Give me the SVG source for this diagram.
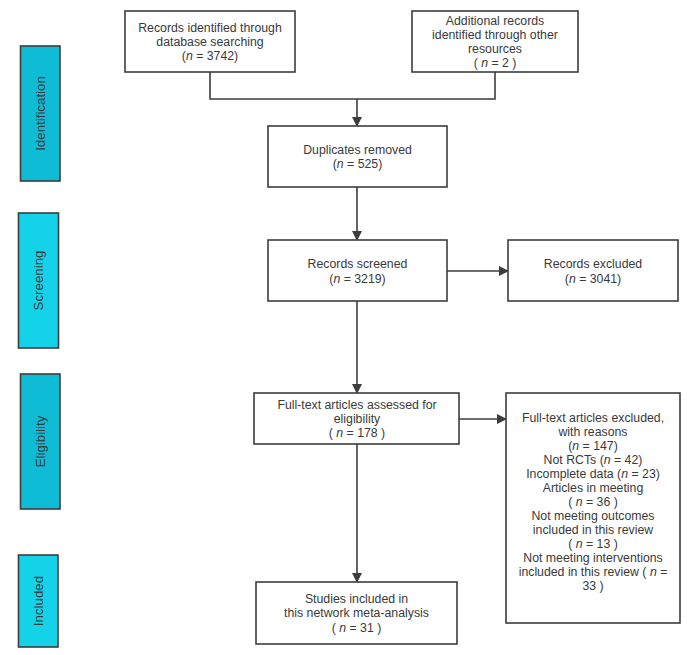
<svg xmlns="http://www.w3.org/2000/svg" width="691" height="655" viewBox="0 0 691 655">
<style>
.box{fill:#fff;stroke:#3d3d3d;stroke-width:1.6}
.bar{stroke:#3d3d3d;stroke-width:1.6}
.dark{fill:#0ebcd6}
.light{fill:#14d3e8}
text{font-family:"Liberation Sans",Arial,sans-serif;font-size:12.3px;fill:#3a3a3a;text-anchor:middle}
.side{font-size:13.3px}
.line{fill:none;stroke:#3d3d3d;stroke-width:1.6}
</style>
<defs>
<marker id="ah" markerWidth="10" markerHeight="10" refX="9" refY="5" orient="auto" markerUnits="userSpaceOnUse">
<path d="M0,0 L10,5 L0,10 Z" fill="#3d3d3d"/>
</marker>
</defs>
<rect width="691" height="655" fill="#fff"/>

<g id="identification">
<rect class="bar dark" x="20.5" y="46" width="39.5" height="135"/>
<text class="side" transform="translate(44.5,113.5) rotate(-90)">Identification</text>
</g>
<g id="screening">
<rect class="bar light" x="18.5" y="213" width="40" height="135"/>
<text class="side" transform="translate(43,280.5) rotate(-90)">Screening</text>
</g>
<g id="eligibility">
<rect class="bar dark" x="20.5" y="374" width="39.5" height="135"/>
<text class="side" transform="translate(44.5,441.5) rotate(-90)">Eligibility</text>
</g>
<g id="included">
<rect class="bar light" x="18.5" y="555" width="39.5" height="92"/>
<text class="side" transform="translate(42.5,601) rotate(-90)">Included</text>
</g>

<g id="connectors">
<polyline class="line" points="210,72 210,99 495,99 495,72"/>
<line class="line" x1="357" y1="99" x2="357" y2="126" marker-end="url(#ah)"/>
<line class="line" x1="357" y1="187" x2="357" y2="240" marker-end="url(#ah)"/>
<line class="line" x1="447" y1="271" x2="508" y2="271" marker-end="url(#ah)"/>
<line class="line" x1="357" y1="301" x2="357" y2="393" marker-end="url(#ah)"/>
<line class="line" x1="459" y1="419" x2="506" y2="419" marker-end="url(#ah)"/>
<line class="line" x1="357" y1="444" x2="357" y2="582" marker-end="url(#ah)"/>
</g>

<g id="database">
<rect class="box" x="125" y="11" width="170" height="61"/>
<text x="210" y="32">Records identified through</text>
<text x="210" y="46">database searching</text>
<text x="210" y="60">(<tspan font-style="italic">n</tspan> = 3742)</text>
</g>
<g id="other">
<rect class="box" x="412" y="11" width="166" height="61"/>
<text x="495" y="25">Additional records</text>
<text x="495" y="39">identified through other</text>
<text x="495" y="53">resources</text>
<text x="495" y="67">( <tspan font-style="italic">n</tspan> = 2 )</text>
</g>
<g id="duplicates">
<rect class="box" x="268" y="126" width="179" height="61"/>
<text x="357.5" y="154">Duplicates removed</text>
<text x="357.5" y="168">(<tspan font-style="italic">n</tspan> = 525)</text>
</g>
<g id="screened">
<rect class="box" x="268" y="240" width="179" height="61"/>
<text x="357.5" y="268">Records screened</text>
<text x="357.5" y="283">(<tspan font-style="italic">n</tspan> = 3219)</text>
</g>
<g id="excluded">
<rect class="box" x="508" y="240" width="170" height="61"/>
<text x="593" y="268">Records excluded</text>
<text x="593" y="283">(<tspan font-style="italic">n</tspan> = 3041)</text>
</g>
<g id="fulltext">
<rect class="box" x="254" y="393" width="205" height="51"/>
<text x="357" y="409">Full-text articles assessed for</text>
<text x="357" y="423">eligibility</text>
<text x="357" y="437">( <tspan font-style="italic">n</tspan> = 178 )</text>
</g>
<g id="ftexcluded">
<rect class="box" x="506" y="393" width="174" height="230"/>
<text x="593" y="422">Full-text articles excluded,</text>
<text x="593" y="436">with reasons</text>
<text x="593" y="450">(<tspan font-style="italic">n</tspan> = 147)</text>
<text x="593" y="464">Not RCTs (<tspan font-style="italic">n</tspan> = 42)</text>
<text x="593" y="478">Incomplete data (<tspan font-style="italic">n</tspan> = 23)</text>
<text x="593" y="492">Articles in meeting</text>
<text x="593" y="506">( <tspan font-style="italic">n</tspan> = 36 )</text>
<text x="593" y="520">Not meeting outcomes</text>
<text x="593" y="534">included in this review</text>
<text x="593" y="548">( <tspan font-style="italic">n</tspan> = 13 )</text>
<text x="593" y="562">Not meeting interventions</text>
<text x="593" y="576">included in this review  ( <tspan font-style="italic">n</tspan> =</text>
<text x="593" y="590">33 )</text>
</g>
<g id="studies">
<rect class="box" x="256" y="582" width="201" height="62"/>
<text x="356.5" y="603">Studies included in</text>
<text x="356.5" y="617">this network meta-analysis</text>
<text x="356.5" y="632">( <tspan font-style="italic">n</tspan> = 31 )</text>
</g>
</svg>
